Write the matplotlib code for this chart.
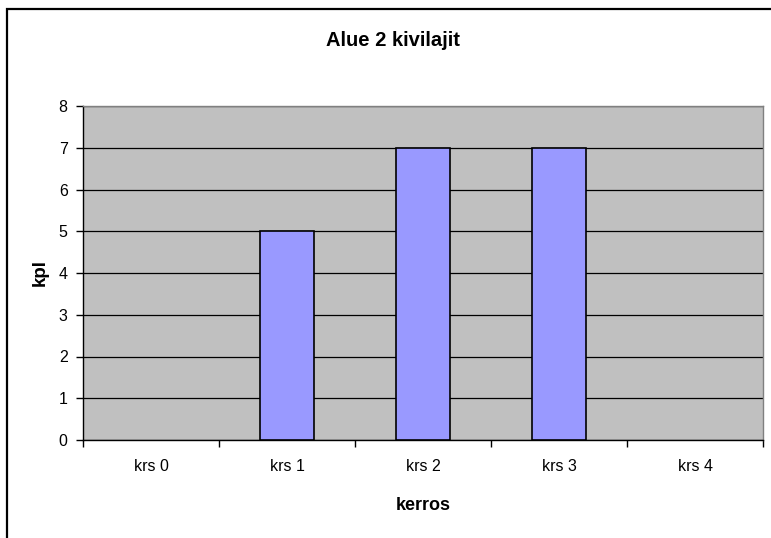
import numpy as np
import matplotlib.pyplot as plt
from matplotlib.patches import Rectangle

plt.rcParams['font.family'] = ['Liberation Sans', 'DejaVu Sans']

categories = ['krs 0', 'krs 1', 'krs 2', 'krs 3', 'krs 4']
values = [0, 5, 7, 7, 0]

W, H = 771, 538
fig = plt.figure(figsize=(W / 100, H / 100), dpi=100)

# outer chart frame (right/bottom run off the picture)
fig.patches.append(Rectangle((7 / W, -0.05), 1.1, (538 - 9) / H + 0.05,
                             transform=fig.transFigure, fill=False,
                             edgecolor='black', linewidth=1.6))

ax = fig.add_axes([83 / W, (H - 440) / H, 680 / W, 334 / H])
ax.set_facecolor('#C0C0C0')

x = np.arange(len(categories))
lw = [1.2 if v > 0 else 0 for v in values]
ax.bar(x, values, width=0.4, color='#9999FF', edgecolor='black', linewidth=lw, zorder=3)

ax.set_xlim(-0.5, len(categories) - 0.5)
ax.set_ylim(0, 8)
ax.set_yticks(range(0, 9))
ax.yaxis.grid(True, color='black', linewidth=0.9, zorder=1)
ax.set_axisbelow(True)

ax.set_xticks(x)
ax.set_xticklabels(categories, fontsize=11.5)
ax.set_xticks(np.arange(-0.5, len(categories)), minor=True)
ax.tick_params(axis='x', which='major', length=0, pad=14)
ax.tick_params(axis='x', which='minor', length=5, width=1, direction='out')
ax.tick_params(axis='y', length=5, width=1, direction='out', labelsize=11.5, pad=6)

ax.spines['left'].set_color('black')
ax.spines['bottom'].set_color('black')
ax.spines['top'].set_color('#808080')
ax.spines['right'].set_color('#808080')
for s in ax.spines.values():
    s.set_linewidth(1)

ax.set_xlabel('kerros', fontsize=13, fontweight='bold', va='center')
ax.xaxis.set_label_coords(0.5, (440 - 505) / 334)
ax.set_ylabel('kpl', fontsize=13.5, fontweight='bold', va='center')
ax.yaxis.set_label_coords((40 - 83) / 680, 0.5)
fig.text(393 / W, 1 - 40 / H, 'Alue 2 kivilajit', ha='center', va='center',
         fontsize=14.5, fontweight='bold')

fig.savefig('out.png', dpi=100)
